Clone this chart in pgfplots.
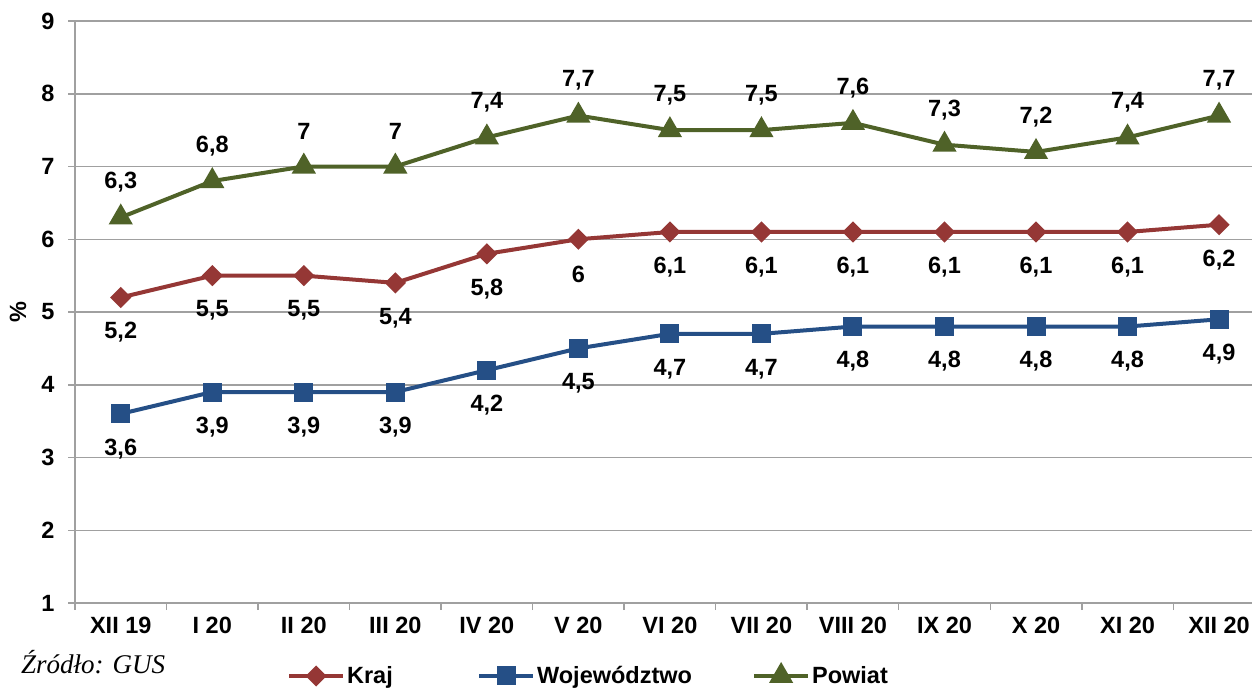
\documentclass[border=0pt]{standalone}
\usepackage{pgfplots}
\pgfplotsset{compat=1.18}
\usepackage{fontspec}
\setmainfont{Liberation Sans}
\newfontfamily\tnr{Liberation Serif}
\definecolor{krajc}{HTML}{953735}
\definecolor{wojc}{HTML}{254F86}
\definecolor{powc}{HTML}{4F6228}
\definecolor{gridc}{HTML}{A0A0A0}
\begin{document}
\begin{tikzpicture}
\begin{axis}[
  at={(75pt,86pt)}, anchor=south west,
  scale only axis, width=1177pt, height=582pt,
  xmin=-0.5, xmax=12.36, ymin=1, ymax=9,
  clip=false,
  axis x line*=bottom, axis y line*=left,
  axis line style={gridc, line width=1.5pt},
  xtick={-0.5,0.5,...,11.5},
  xticklabels={},
  extra x ticks={0,...,12},
  extra x tick labels={XII 19,I 20,II 20,III 20,IV 20,V 20,VI 20,VII 20,VIII 20,IX 20,X 20,XI 20,XII 20},
  extra x tick style={major tick length=0pt, xticklabel style={yshift=-11pt}},
  ytick={1,...,9},
  major tick length=7pt,
  tick align=outside,
  tick style={gridc, line width=1.5pt},
  ymajorgrids,
  grid style={gridc, line width=1.5pt},
  tick label style={font=\fontsize{23.5}{27}\selectfont\bfseries, text=black},
  yticklabel style={xshift=-10pt},
  /pgf/number format/use comma,
  /pgf/number format/assume math mode=true,
  every axis y label/.style={at={(axis description cs:-0.0484,0.5)}, rotate=90, anchor=center, font=\fontsize{23.5}{27}\selectfont\bfseries},
  ylabel={\%},
  nodes near coords,
  every node near coord/.append style={font=\fontsize{23.5}{27}\selectfont\bfseries, text=black, anchor=center},
  legend columns=3,
  legend style={at={(axis description cs:0.1775,-0.1254)}, anchor=west, draw=none, fill=none,
    font=\fontsize{23.5}{27}\selectfont\bfseries, /tikz/every even column/.append style={column sep=0pt},
    nodes={inner sep=2pt}},
  legend image code/.code={\draw[#1, mark repeat=2, mark phase=2] plot coordinates {(0pt,0pt) (27pt,0pt) (54pt,0pt)};},
]
\addplot[krajc, line width=4pt, mark=square*, mark size=5.5pt, mark options={rotate=45, solid},
  every node near coord/.append style={yshift=-35pt}]
  coordinates {(0,5.2) (1,5.5) (2,5.5) (3,5.4) (4,5.8) (5,6) (6,6.1) (7,6.1) (8,6.1) (9,6.1) (10,6.1) (11,6.1) (12,6.2)};
\addlegendentry{\makebox[128pt][l]{Kraj}}
\addplot[wojc, line width=4pt, mark=square*, mark size=7.5pt, mark options={solid},
  every node near coord/.append style={yshift=-35pt}]
  coordinates {(0,3.6) (1,3.9) (2,3.9) (3,3.9) (4,4.2) (5,4.5) (6,4.7) (7,4.7) (8,4.8) (9,4.8) (10,4.8) (11,4.8) (12,4.9)};
\addlegendentry{\makebox[213pt][l]{Województwo}}
\addplot[powc, line width=4pt, mark=triangle*, mark size=10pt, mark options={solid},
  every node near coord/.append style={yshift=35pt}]
  coordinates {(0,6.3) (1,6.8) (2,7) (3,7) (4,7.4) (5,7.7) (6,7.5) (7,7.5) (8,7.6) (9,7.3) (10,7.2) (11,7.4) (12,7.7)};
\addlegendentry{Powiat}
\end{axis}
\node[anchor=west, font=\tnr\itshape\fontsize{27}{31}\selectfont, inner sep=0pt] at (21pt,27pt) {Źródło: GUS};
\pgfresetboundingbox
\useasboundingbox (0pt,0pt) rectangle (1252pt,689pt);
\end{tikzpicture}
\end{document}
